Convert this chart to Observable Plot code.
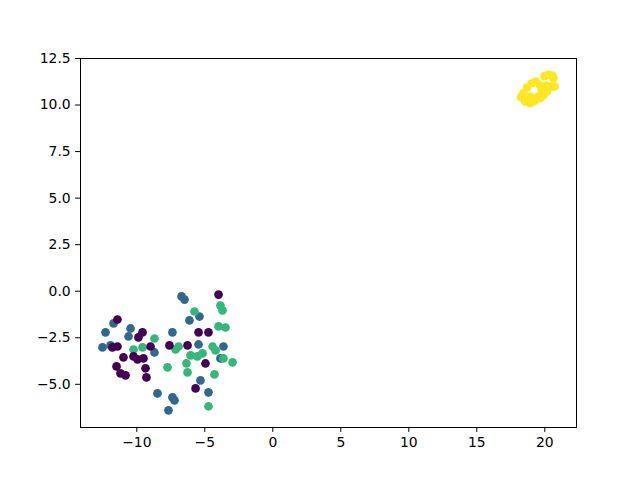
<!DOCTYPE html>
<html>
<head>
<meta charset="utf-8">
<script src="https://cdn.jsdelivr.net/npm/d3@7"></script>
<script src="https://cdn.jsdelivr.net/npm/@observablehq/plot@0.6"></script>
<style>
  html, body { margin: 0; padding: 0; background: #fff; }
  svg { display: block; }
</style>
</head>
<body>
<div id="chart"></div>
<script>
// Class labels and colours (viridis, 4 classes)
const classes = [0, 1, 2, 3];
const classColors = ["#440154", "#31688e", "#35b779", "#fde725"];

// Class 1 (blue)
const c1x = [-11.71, -12.30, -10.46, -10.61, -12.52, -11.93, -7.38, -6.71, -6.49, -5.39, -6.13, -5.46, -3.63, -8.70, -8.48, -7.67, -7.38, -7.23, -5.32, -4.73, -3.85];
const c1y = [-1.73, -2.21, -2.00, -2.43, -3.02, -2.91, -2.21, -0.28, -0.45, -1.36, -1.57, -2.86, -2.97, -3.29, -5.49, -6.40, -5.70, -5.86, -4.79, -5.43, -3.61];

// Class 2 (green)
const c2x = [-8.70, -10.24, -9.58, -3.85, -3.70, -5.76, -3.99, -3.48, -6.93, -4.43, -7.15, -6.05, -5.54, -5.17, -4.21, -3.63, -2.96, -6.35, -7.74, -6.27, -4.29, -4.73];
const c2y = [-2.54, -3.13, -3.02, -0.77, -1.03, -1.09, -1.89, -1.95, -2.97, -2.97, -3.13, -3.45, -3.50, -3.34, -3.18, -3.61, -3.82, -3.88, -4.09, -4.36, -4.47, -6.18];

// Class 0 (purple)
const c0x = [-11.42, -9.58, -9.88, -11.42, -11.79, -8.99, -7.60, -10.98, -10.24, -9.95, -9.51, -9.36, -9.29, -11.49, -11.20, -10.83, -3.99, -5.46, -4.73, -6.27, -4.95, -5.68];
const c0y = [-1.52, -2.21, -2.48, -2.97, -3.02, -2.97, -2.91, -3.55, -3.50, -3.66, -3.61, -4.14, -4.63, -4.04, -4.41, -4.52, -0.18, -2.21, -2.21, -2.91, -3.88, -5.22];

// Class 3 (yellow)
const c3x = [18.43, 18.26, 18.68, 19.04, 19.34, 18.56, 18.93, 19.29, 19.66, 19.90, 19.78, 19.66, 20.07, 20.27, 20.64, 20.47, 20.72, 20.15, 18.93, 19.98, 20.55, 19.50];
const c3y = [10.64, 10.42, 10.94, 11.17, 11.26, 10.19, 10.10, 10.23, 10.37, 10.55, 10.82, 11.05, 11.05, 11.62, 11.44, 10.99, 11.00, 10.72, 10.46, 11.55, 11.58, 10.45];

// Tick values
const xTicks = [-10, -5, 0, 5, 10, 15, 20];
const yTicks = [-5, -2.5, 0, 2.5, 5, 7.5, 10, 12.5];

const series = [
  {cls: 1, xs: c1x, ys: c1y},
  {cls: 2, xs: c2x, ys: c2y},
  {cls: 0, xs: c0x, ys: c0y},
  {cls: 3, xs: c3x, ys: c3y}
];
const data = series.flatMap(s => s.xs.map((x, i) => ({x, y: s.ys[i], cls: s.cls})));

const font = "'DejaVu Sans', sans-serif";
const plot = Plot.plot({
  width: 640,
  height: 480,
  marginLeft: 80,
  marginRight: 64,
  marginTop: 58,
  marginBottom: 53,
  style: {fontFamily: font, fontSize: "13.9px", color: "#000", background: "#fff", overflow: "visible"},
  x: {domain: [-14.14, 22.33], ticks: xTicks, label: null, tickFormat: d3.format("d")},
  y: {domain: [-7.32, 12.5], ticks: yTicks, label: null, tickFormat: d3.format(".1f")},
  color: {domain: classes, range: classColors},
  marks: [
    Plot.dot(data, {x: "x", y: "y", fill: "cls", r: 4.35, stroke: null}),
    Plot.frame({stroke: "#000", strokeWidth: 1}),
    Plot.axisX({ticks: xTicks, tickFormat: d3.format("d"), tickSize: 4.9, tickPadding: 4.9, fontSize: 13.9, label: null}),
    Plot.axisY({ticks: yTicks, tickFormat: d3.format(".1f"), tickSize: 4.9, tickPadding: 4.9, fontSize: 13.9, label: null})
  ]
});
document.getElementById("chart").appendChild(plot);
</script>
</body>
</html>
